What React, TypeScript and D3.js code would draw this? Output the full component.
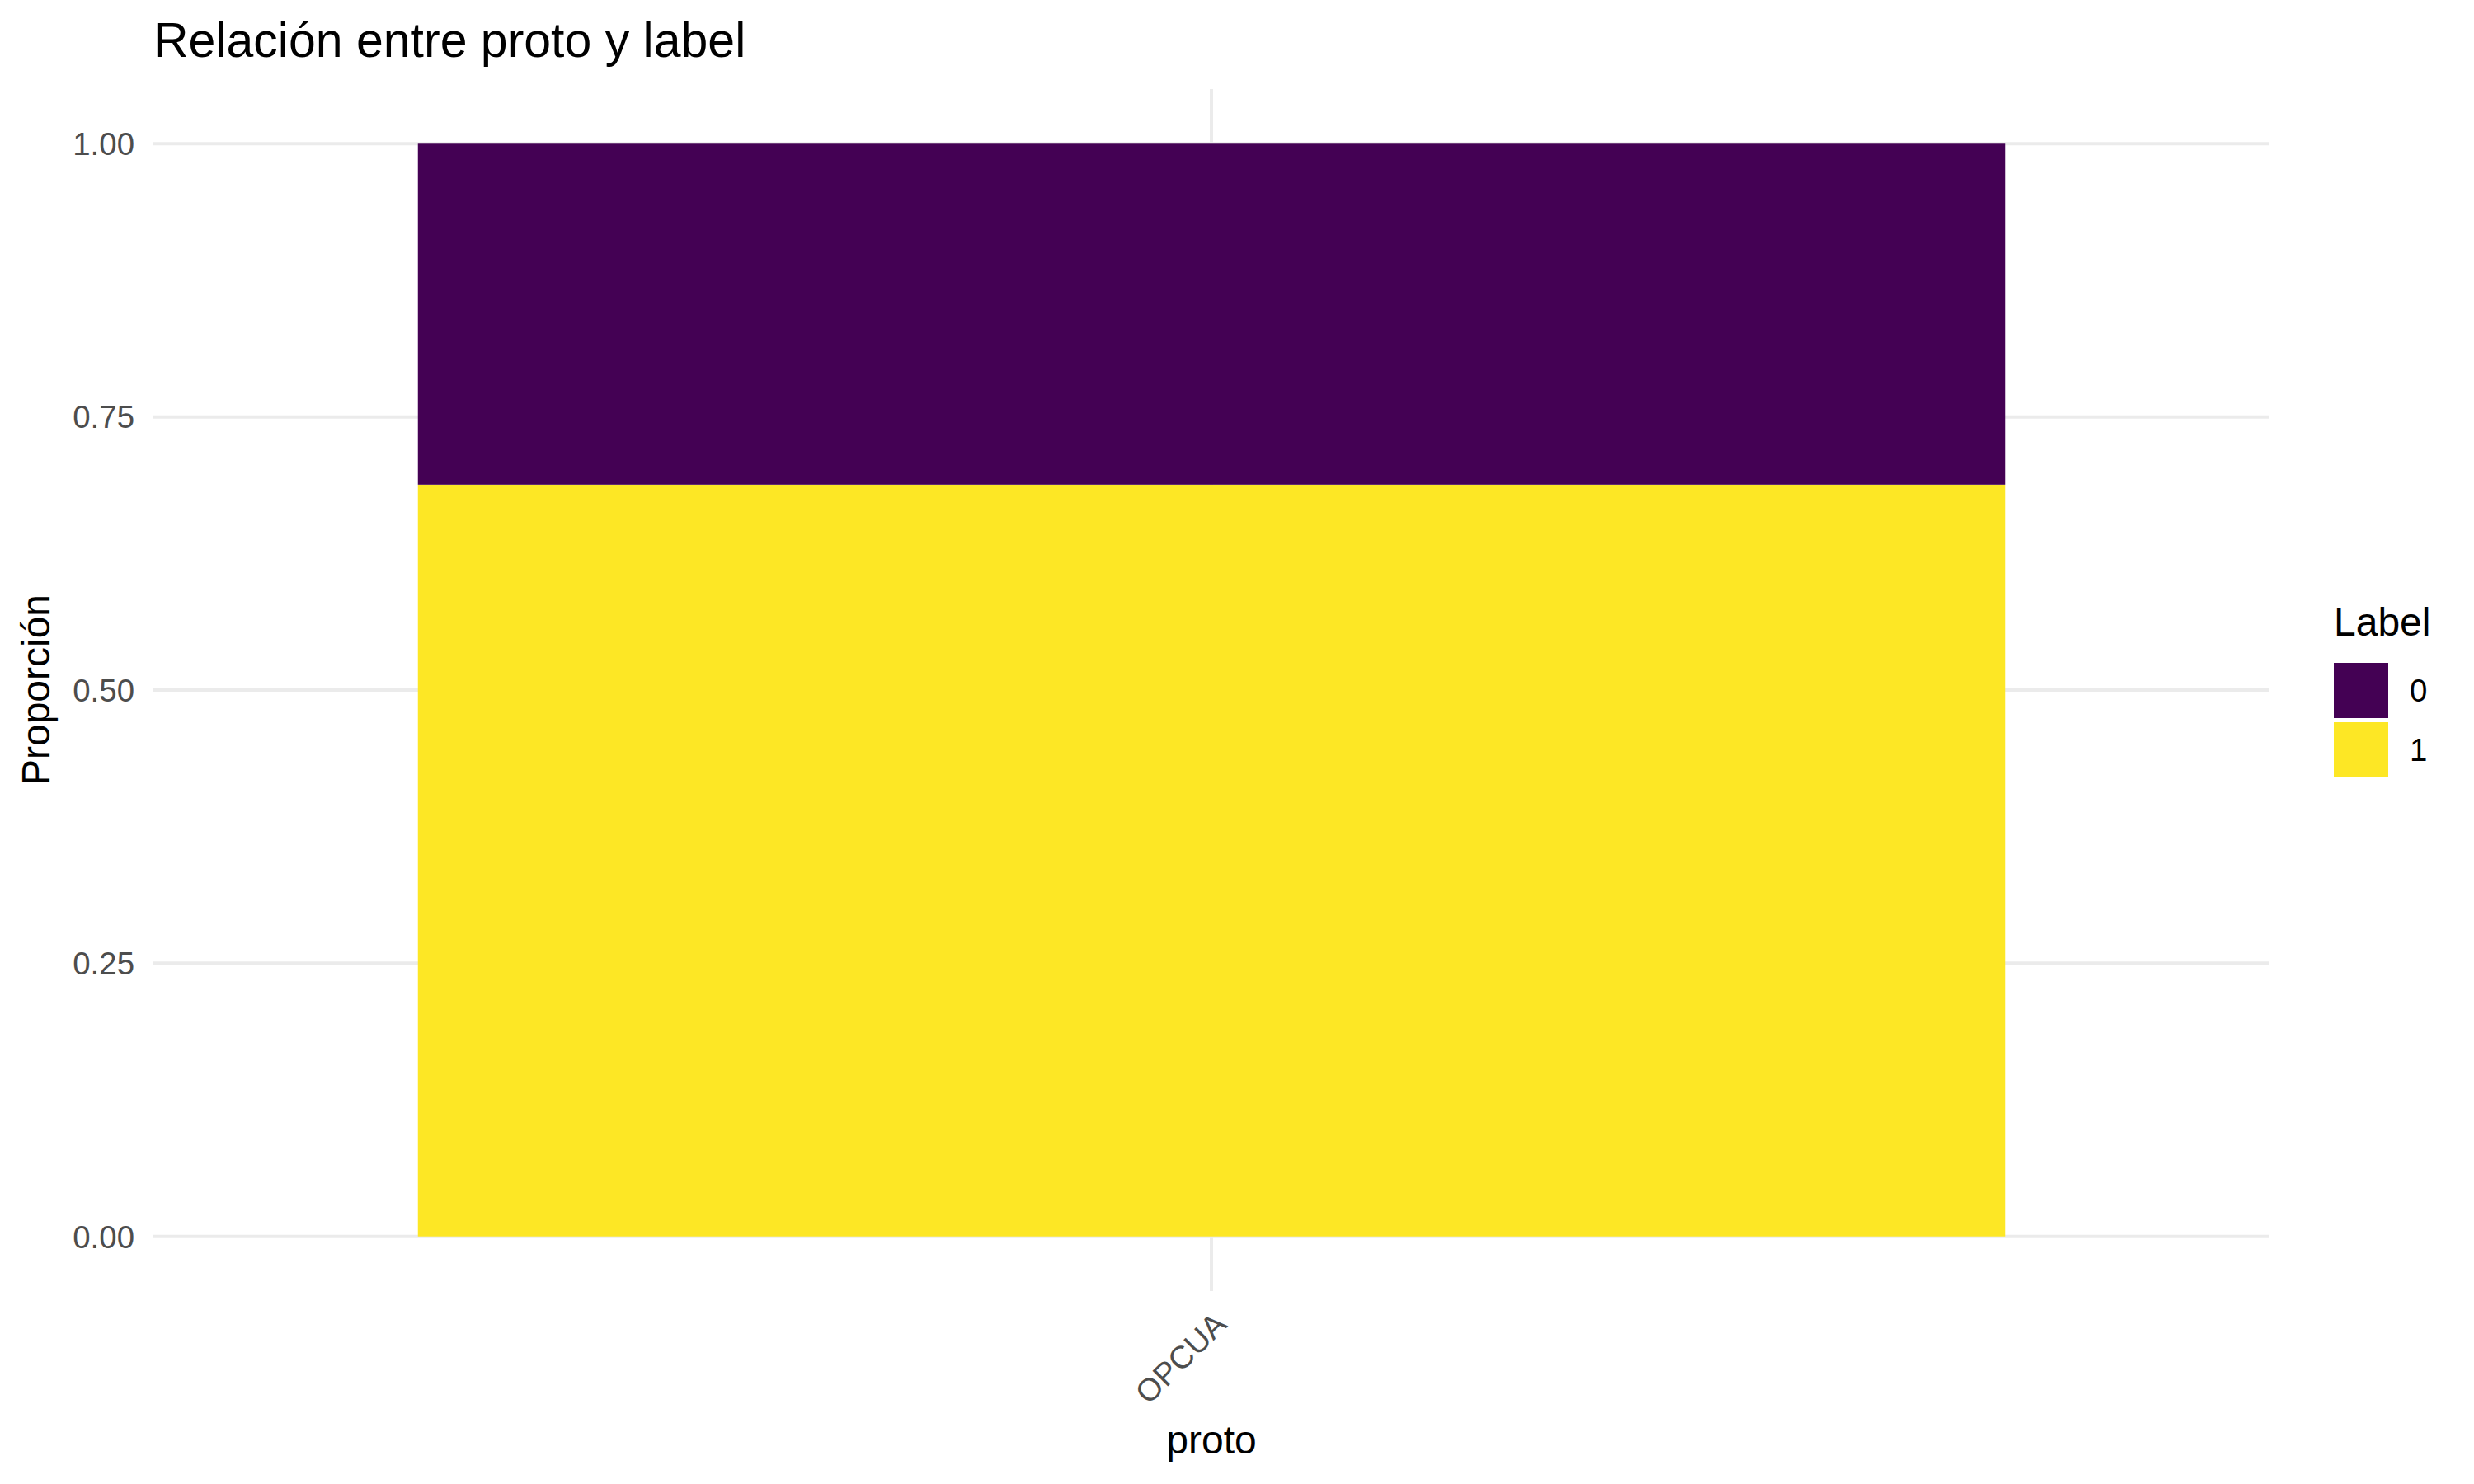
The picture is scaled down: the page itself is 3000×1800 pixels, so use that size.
import React from 'react';
import * as d3 from 'd3';

// data
const protos = ['OPCUA'];
const labelKeys = ['0', '1'];
const propLabel0 = [0.312];
const propLabel1 = [0.688];
const yTicks = [0, 0.25, 0.5, 0.75, 1];
const yTickLabels = ['0.00', '0.25', '0.50', '0.75', '1.00'];

const colors: Record<string, string> = { '0': '#440154', '1': '#FDE725' };

const W = 3000;
const H = 1800;
const panel = { left: 186, right: 2752, top: 108, bottom: 1566 };
const font = '"Liberation Sans", Arial, Helvetica, sans-serif';
const gridColor = '#ebebeb';

export default function App() {
  const rows = protos.map((p, i) => ({ proto: p, '0': propLabel0[i], '1': propLabel1[i] }));

  // label 1 at the bottom, label 0 stacked on top (position = "fill")
  const stacked = d3.stack<any>().keys(['1', '0'])(rows);

  const x = d3.scaleLinear()
    .domain([0.4, protos.length + 0.6])
    .range([panel.left, panel.right]);
  const y = d3.scaleLinear()
    .domain([-0.05, 1.05])
    .range([panel.bottom, panel.top]);

  const barWidth = x(0.9) - x(0);

  return (
    <div style={{ position: 'absolute', left: 0, top: 0 }}>
      <svg width={W} height={H} style={{ display: 'block', background: '#fff' }} fontFamily={font}>
        {/* GRID */}
        {yTicks.map(t => (
          <line key={'gy' + t} x1={panel.left} x2={panel.right} y1={y(t)} y2={y(t)}
            stroke={gridColor} strokeWidth={4} />
        ))}
        {protos.map((p, i) => (
          <line key={'gx' + p} x1={x(i + 1)} x2={x(i + 1)} y1={panel.top} y2={panel.bottom}
            stroke={gridColor} strokeWidth={4} />
        ))}

        {/* BARS */}
        {stacked.map(series => (
          <g key={series.key} fill={colors[series.key]}>
            {series.map((d, i) => (
              <rect key={i}
                x={x(i + 1) - barWidth / 2}
                width={barWidth}
                y={y(d[1])}
                height={y(d[0]) - y(d[1])} />
            ))}
          </g>
        ))}

        {/* Y AXIS */}
        {yTicks.map((t, i) => (
          <text key={'ty' + t} x={163} y={y(t)} dy="0.36em" textAnchor="end"
            fontSize={38.4} fill="#4d4d4d">{yTickLabels[i]}</text>
        ))}
        <text transform={`translate(60, ${(y(0) + y(1)) / 2}) rotate(-90)`} textAnchor="middle"
          fontSize={48} fill="#000">Proporción</text>

        {/* X AXIS */}
        {protos.map((p, i) => (
          <text key={'tx' + p} transform={`translate(${x(i + 1)}, ${1588}) rotate(-45)`}
            textAnchor="end" dy="0.75em" fontSize={38.4} fill="#4d4d4d">{p}</text>
        ))}
        <text x={(panel.left + panel.right) / 2} y={1763} textAnchor="middle"
          fontSize={48} fill="#000">proto</text>

        {/* TITLE */}
        <text x={186} y={69} fontSize={59} fill="#000">Relación entre proto y label</text>

        {/* LEGEND */}
        <text x={2830} y={771} fontSize={48} fill="#000">Label</text>
        {labelKeys.map((k, i) => (
          <g key={'lg' + k} transform={`translate(2830, ${804 + i * 72})`}>
            <rect width={66} height={67} fill={colors[k]} />
            <text x={92} y={33.5} dy="0.36em" fontSize={38.4} fill="#000">{k}</text>
          </g>
        ))}
      </svg>
    </div>
  );
}
